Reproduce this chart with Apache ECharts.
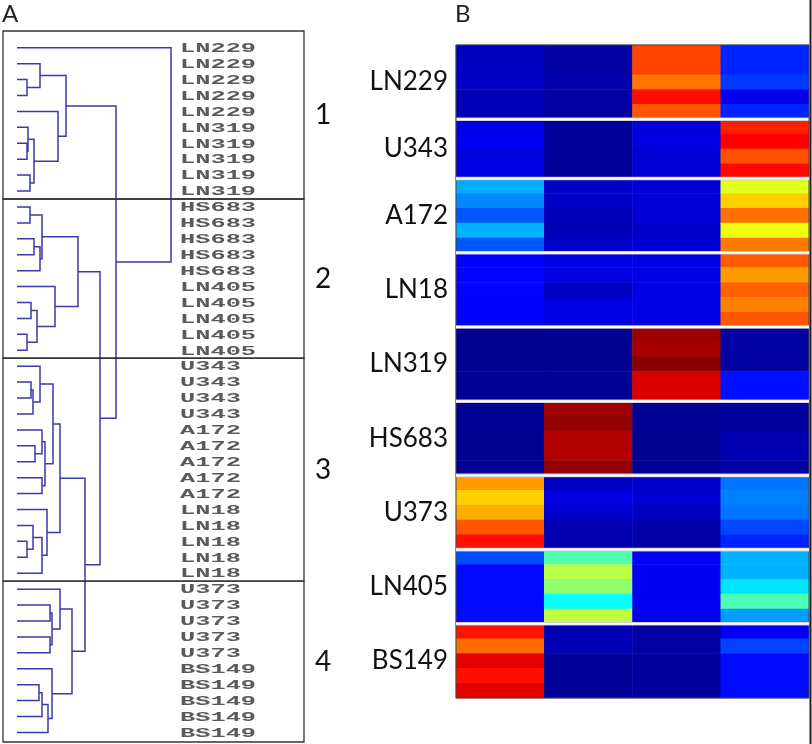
<!DOCTYPE html>
<html><head><meta charset="utf-8">
<script src="https://cdn.jsdelivr.net/npm/echarts@6/dist/echarts.min.js"></script>
<style>html,body{margin:0;padding:0;background:#fff}#c{width:812px;height:744px}</style>
</head><body><div id="c"></div>
<script>
// ---- Panel A: dendrogram leaves (top to bottom) ----
const leafLabels = [
  'LN229','LN229','LN229','LN229','LN229',
  'LN319','LN319','LN319','LN319','LN319',
  'HS683','HS683','HS683','HS683','HS683',
  'LN405','LN405','LN405','LN405','LN405',
  'U343','U343','U343','U343',
  'A172','A172','A172','A172','A172',
  'LN18','LN18','LN18','LN18','LN18',
  'U373','U373','U373','U373','U373',
  'BS149','BS149','BS149','BS149','BS149'
];
// merges: [childA, childB, height]; leaves are 0..43, merge k gets id 44+k
const merges = [
  [2,3,10],[1,44,23],[6,7,10],[5,46,11],[8,9,13],[47,48,17],[4,49,41],[45,50,49],
  [10,11,13],[12,13,17],[53,14,23],[52,54,25],[16,17,14],[18,19,10],[56,57,20],[15,58,38],[55,59,61],
  [21,22,14],[61,23,16],[20,62,23],[25,26,18],[24,64,25],[27,28,25],[65,66,28],[63,67,36],
  [31,32,10],[30,69,16],[70,33,25],[29,71,30],[68,72,43],
  [35,36,33],[37,38,33],[74,75,35],[34,76,43],
  [40,41,22],[78,42,25],[79,43,31],[39,80,35],[77,81,55],
  [73,82,68],[60,83,83],[51,84,99],[0,85,154]
];
const clusterNames = ['1','2','3','4'];
const clusterBounds = [[-1.05,9.5],[9.5,19.5],[19.5,33.5],[33.5,43.6]];
const panelTitles = ['A','B'];

// ---- Panel B: heatmap ----
const groupNames = ['LN229','U343','A172','LN18','LN319','HS683','U373','LN405','BS149'];
const groupSizes = [5,4,5,5,5,5,5,5,5];
const columns = ['1','2','3','4'];
const col1 = [0.06,0.065,0.07,0.055,0.055, 0.10,0.11,0.095,0.095, 0.296,0.26,0.21,0.30,0.21,
  0.125,0.13,0.13,0.125,0.125, 0.02,0.02,0.02,0.02,0.02, 0.02,0.02,0.02,0.02,0.02,
  0.724,0.671,0.703,0.79,0.86, 0.20,0.135,0.135,0.135,0.135, 0.855,0.77,0.90,0.86,0.90];
const col2 = [0.035,0.035,0.04,0.035,0.035, 0.025,0.025,0.025,0.025, 0.07,0.07,0.055,0.055,0.07,
  0.095,0.095,0.065,0.095,0.095, 0.02,0.02,0.02,0.02,0.02, 0.97,0.98,0.95,0.95,0.98,
  0.065,0.095,0.08,0.05,0.05, 0.453,0.556,0.517,0.38,0.563, 0.05,0.05,0.025,0.025,0.025];
const col3 = [0.81,0.81,0.76,0.86,0.79, 0.085,0.095,0.085,0.085, 0.085,0.085,0.085,0.075,0.085,
  0.10,0.10,0.10,0.10,0.10, 0.97,0.96,0.99,0.91,0.91, 0.02,0.02,0.02,0.02,0.02,
  0.08,0.08,0.065,0.04,0.04, 0.12,0.115,0.115,0.115,0.115, 0.035,0.035,0.03,0.03,0.03];
const col4 = [0.16,0.16,0.18,0.105,0.16, 0.845,0.875,0.796,0.867, 0.595,0.671,0.765,0.61,0.755,
  0.786,0.724,0.78,0.75,0.79, 0.035,0.035,0.035,0.14,0.14, 0.03,0.03,0.05,0.05,0.04,
  0.24,0.25,0.24,0.195,0.16, 0.30,0.30,0.35,0.45,0.28, 0.12,0.19,0.135,0.135,0.135];
const jet = ['#00007f','#0000ff','#007fff','#00ffff','#7fff7f','#ffff00','#ff7f00','#ff0000','#7f0000'];

// ---- derived ----
const nodes = leafLabels.map((_, i) => ({h: 0, y: i}));
merges.forEach(([a, b, h]) => nodes.push({h, y: (nodes[a].y + nodes[b].y) / 2}));
const linkData = merges.map(([a, b, h]) => [nodes[a].h, nodes[a].y, nodes[b].h, nodes[b].y, h]);

const rowIds = [];
const groupData = [];
let start = 0;
groupNames.forEach((g, gi) => {
  groupData.push([0, start, groupSizes[gi]]);
  for (let k = 0; k < groupSizes[gi]; k++) rowIds.push(g + '-' + (k + 1));
  start += groupSizes[gi];
});
const heatData = [];
[col1, col2, col3, col4].forEach((col, ci) => col.forEach((v, ri) => heatData.push([ci, ri, v])));

function titleText(text, x) {
  return {type: 'text', x: x, y: 2,
    style: {text: text, font: '24px Lato', fill: '#222',
      align: 'left', verticalAlign: 'top', textAlign: 'left', textVerticalAlign: 'top'}};
}

const X_MIN = -14, X_MAX = 287;
const chart = echarts.init(document.getElementById('c'), null, {renderer: 'canvas', width: 812, height: 744});
chart.setOption({
  animation: false,
  backgroundColor: '#fff',
  grid: [
    {left: 3, top: 31, width: 301, height: 711},
    {left: 456, top: 45, width: 353, height: 653}
  ],
  xAxis: [
    {gridIndex: 0, type: 'value', min: X_MIN, max: X_MAX, show: false},
    {gridIndex: 1, type: 'category', data: columns, show: false}
  ],
  yAxis: [
    {gridIndex: 0, type: 'value', min: -1.05, max: 43.6, inverse: true, show: false},
    {gridIndex: 1, type: 'category', data: rowIds, inverse: true, show: false}
  ],
  visualMap: {show: false, seriesIndex: 3, min: 0, max: 1, dimension: 2, inRange: {color: jet}},
  graphic: [
    {type: 'line', shape: {x1: 810.5, y1: 0, x2: 810.5, y2: 744}, style: {stroke: '#222', lineWidth: 2}}
  ],
  series: [
    {
      type: 'custom', xAxisIndex: 0, yAxisIndex: 0, data: linkData, silent: true,
      renderItem(params, api) {
        const pa = api.coord([api.value(0), api.value(1)]);
        const pb = api.coord([api.value(2), api.value(3)]);
        const ha = api.coord([api.value(4), api.value(1)]);
        const hb = api.coord([api.value(4), api.value(3)]);
        return {type: 'polyline', shape: {points: [pa, ha, hb, pb]},
          style: {stroke: '#3a3aa8', lineWidth: 1.5, fill: null}};
      }
    },
    {
      type: 'custom', xAxisIndex: 0, yAxisIndex: 0, silent: true,
      data: leafLabels.map((l, i) => [165, i]),
      renderItem(params, api) {
        const p = api.coord([api.value(0), api.value(1)]);
        return {type: 'text', x: p[0] - 2, y: p[1] + 1, scaleX: 1.95,
          style: {text: leafLabels[params.dataIndex], font: 'bold 13px "Liberation Mono"', fill: '#5a5a5a',
            align: 'left', verticalAlign: 'middle', textAlign: 'left', textVerticalAlign: 'middle'}};
      }
    },
    {
      type: 'custom', xAxisIndex: 0, yAxisIndex: 0, silent: true,
      data: clusterBounds,
      renderItem(params, api) {
        const p0 = api.coord([X_MIN, api.value(0)]);
        const p1 = api.coord([X_MAX, api.value(1)]);
        const children = [
          {type: 'rect', shape: {x: p0[0], y: p0[1], width: p1[0] - p0[0], height: p1[1] - p0[1]},
            style: {fill: null, stroke: '#333', lineWidth: 1.3}},
          {type: 'text', x: p1[0] + 19, y: (p0[1] + p1[1]) / 2,
            style: {text: clusterNames[params.dataIndex], font: '28px Lato', fill: '#111',
              align: 'center', verticalAlign: 'middle', textAlign: 'center', textVerticalAlign: 'middle'}}
        ];
        if (params.dataIndex === 0) children.push(titleText(panelTitles[0], params.coordSys.x - 1));
        return {type: 'group', children};
      }
    },
    {
      type: 'heatmap', xAxisIndex: 1, yAxisIndex: 1, data: heatData, silent: true,
      itemStyle: {borderWidth: 0}, emphasis: {disabled: true}, progressive: 0
    },
    {
      type: 'custom', xAxisIndex: 1, yAxisIndex: 1, data: groupData, silent: true, z: 5,
      renderItem(params, api) {
        const cs = params.coordSys;
        const band = api.size([0, 1])[1];
        const yTop = api.coord([0, api.value(1)])[1] - band / 2;
        const yBot = yTop + band * api.value(2);
        const children = [{type: 'text', x: cs.x - 8, y: (yTop + yBot) / 2,
          style: {text: groupNames[params.dataIndex], font: '26px Lato', fill: '#111',
            align: 'right', verticalAlign: 'middle', textAlign: 'right', textVerticalAlign: 'middle'}}];
        if (params.dataIndex < groupNames.length - 1) {
          children.push({type: 'line', shape: {x1: cs.x, y1: yBot, x2: cs.x + cs.width, y2: yBot},
            style: {stroke: '#c4c4d4', lineWidth: 3.6}});
          children.push({type: 'line', shape: {x1: cs.x, y1: yBot, x2: cs.x + cs.width, y2: yBot},
            style: {stroke: '#ffffff', lineWidth: 2}});
        }
        if (params.dataIndex === 0) {
          children.push({type: 'rect', shape: {x: cs.x, y: cs.y, width: cs.width, height: cs.height},
            style: {fill: null, stroke: '#444', lineWidth: 1}});
          children.push(titleText(panelTitles[1], cs.x - 1));
        }
        return {type: 'group', children};
      }
    }
  ]
});
</script></body></html>
